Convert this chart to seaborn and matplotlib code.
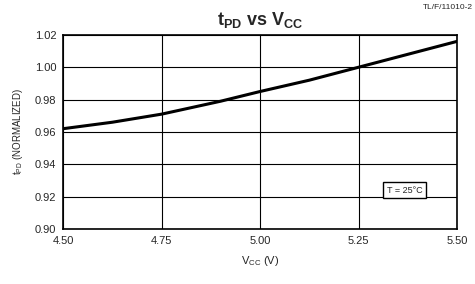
import matplotlib
matplotlib.use("Agg")
import matplotlib.pyplot as plt
import seaborn as sns
import pandas as pd

# values
vcc = [4.50, 4.625, 4.75, 4.90, 5.00, 5.125, 5.25, 5.375, 5.50]
tpd = [0.962, 0.966, 0.971, 0.979, 0.985, 0.992, 1.000, 1.008, 1.016]
xticks = [4.50, 4.75, 5.00, 5.25, 5.50]
yticks = [0.90, 0.92, 0.94, 0.96, 0.98, 1.00, 1.02]

df = pd.DataFrame({"vcc": vcc, "tpd": tpd})

sns.set_style("white")
plt.rcParams["font.family"] = ["Liberation Sans", "DejaVu Sans"]
plt.rcParams["mathtext.default"] = "regular"

fig = plt.figure(figsize=(4.75, 2.84), dpi=100)
ax = fig.add_axes([0.133, 0.194, 0.829, 0.683])

sns.lineplot(data=df, x="vcc", y="tpd", ax=ax, color="black", linewidth=2.2)

ax.set_xlim(4.50, 5.50)
ax.set_ylim(0.90, 1.02)
ax.set_xticks(xticks)
ax.set_yticks(yticks)
ax.set_xticklabels([f"{v:.2f}" for v in xticks], fontsize=8)
ax.set_yticklabels([f"{v:.2f}" for v in yticks], fontsize=8)
ax.tick_params(length=0, pad=5)
ax.grid(True, color="black", linewidth=0.8)
for s in ax.spines.values():
    s.set_color("black")
    s.set_linewidth(1.2)

ax.set_xlabel("V$_{CC}$ (V)", fontsize=8, labelpad=6)
ax.set_ylabel("t$_{PD}$ (NORMALIZED)", fontsize=7, labelpad=7)
ax.set_title("t$_{PD}$ vs V$_{CC}$", fontsize=13, fontweight="bold", pad=7)

ax.text(5.367, 0.924, "T = 25°C", fontsize=6.5, ha="center", va="center",
        bbox=dict(boxstyle="square,pad=0.4", facecolor="white",
                  edgecolor="black", linewidth=1))

fig.text(0.995, 0.985, "TL/F/11010-2", fontsize=6, ha="right", va="top")

fig.savefig("out.png", dpi=100)
